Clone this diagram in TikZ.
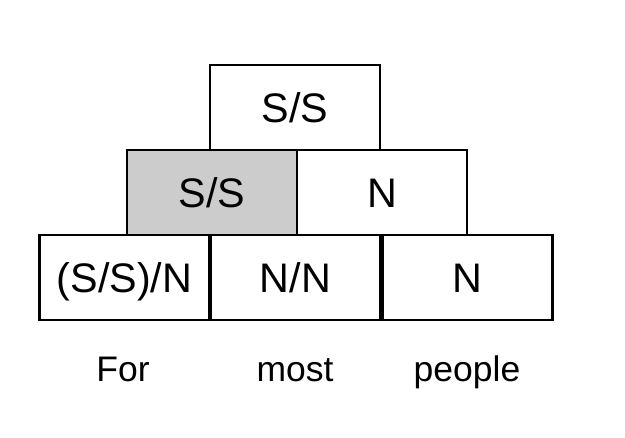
\documentclass[tikz,border=0pt]{standalone}
\usepackage{fontspec}
\setmainfont{Liberation Sans}

\tikzset{
    cat/.style={draw, line width=1.2pt, minimum width=3.4cm, minimum height=1.7cm,
        inner sep=0pt, text height=16.8pt, text depth=0pt,
        font=\fontsize{23.5}{28}\selectfont},
    word/.style={anchor=base, inner sep=0pt, font=\fontsize{20.2}{24}\selectfont}
}

\begin{document}
\begin{tikzpicture}
    \useasboundingbox (0,0) rectangle (12.5,8.74);

    % Top of the derivation
    \node[cat] (top) at (5.9,6.59) {S/S};

    % Middle row
    \node[cat, fill=black!20] (midSS) at (4.24,4.89) {S/S};
    \node[cat] (midN) at (7.64,4.89) {N};

    % Lexical categories
    \node[cat] (catFor) at (2.49,3.19) {(S/S)/N};
    \node[cat] (catMost) at (5.91,3.19) {N/N};
    \node[cat] (catPeople) at (9.35,3.19) {N};

    % Words
    \node[word] (wFor) at (2.46,1.12) {For};
    \node[word] (wMost) at (5.9,1.12) {most};
    \node[word] (wPeople) at (9.34,1.12) {people};
\end{tikzpicture}
\end{document}
